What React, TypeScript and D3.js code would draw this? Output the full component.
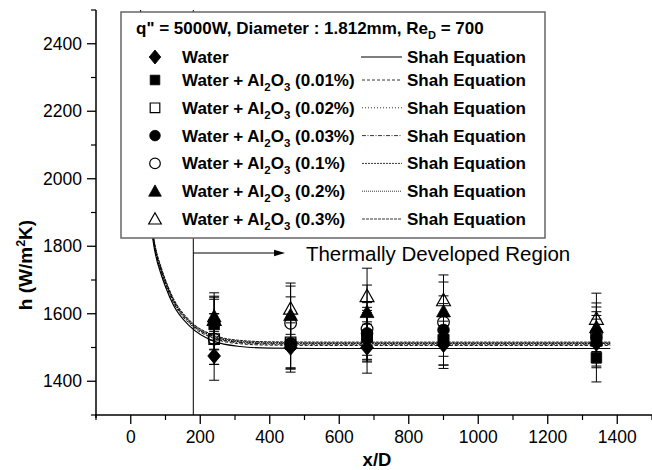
import React from "react";
import * as d3 from "d3";

// ---- data ----
const xPositions = [240, 460, 680, 900, 1340];
const hWater = [1475, 1500, 1500, 1508, 1512];
const hAl001 = [1568, 1510, 1530, 1522, 1470];
const hAl002 = [1525, 1515, 1535, 1522, 1520];
const hAl003 = [1572, 1512, 1542, 1552, 1530];
const hAl01 = [1525, 1572, 1555, 1575, 1543];
const hAl02 = [1592, 1596, 1605, 1607, 1560];
const hAl03 = [1582, 1615, 1652, 1640, 1585];

const eWater = [72, 73, 76, 70, 72];
const eAl001 = [75, 74, 73, 74, 72];
const eAl002 = [75, 75, 75, 74, 75];
const eAl003 = [77, 75, 77, 78, 76];
const eAl01 = [75, 78, 78, 78, 77];
const eAl02 = [70, 86, 80, 87, 72];
const eAl03 = [70, 76, 83, 75, 76];

const curveXD = [28, 35, 50, 66, 89, 100, 123, 172, 238, 315, 400, 600, 1000, 1380];
const shahWater = [2480, 2230, 1945, 1805, 1712, 1680, 1625, 1561, 1519, 1503, 1498, 1497, 1497, 1497];
const shah001 = [2490, 2240, 1955, 1813, 1720, 1688, 1633, 1568, 1527, 1511, 1507, 1506, 1506, 1506];
const shah002 = [2495, 2245, 1958, 1816, 1722, 1690, 1635, 1570, 1529, 1513, 1509, 1508, 1508, 1508];
const shah003 = [2500, 2250, 1962, 1819, 1725, 1693, 1638, 1572, 1531, 1515, 1511, 1510, 1510, 1510];
const shah01 = [2505, 2255, 1965, 1822, 1727, 1695, 1640, 1574, 1533, 1517, 1513, 1512, 1512, 1512];
const shah02 = [2510, 2260, 1968, 1825, 1730, 1698, 1642, 1576, 1535, 1519, 1515, 1514, 1514, 1514];
const shah03 = [2515, 2265, 1972, 1828, 1733, 1700, 1645, 1578, 1537, 1521, 1517, 1516, 1516, 1516];

const concentrations = ["", "0.01%", "0.02%", "0.03%", "0.1%", "0.2%", "0.3%"];
const xMajorTicks = [0, 200, 400, 600, 800, 1000, 1200, 1400];
const xMinorTicks = [-100, 100, 300, 500, 700, 900, 1100, 1300, 1500];
const yMajorTicks = [1400, 1600, 1800, 2000, 2200, 2400];
const yMinorTicks = [1300, 1500, 1700, 1900, 2100, 2300, 2500];

const boundaryXD = 180;
const arrowStartXD = 180;
const arrowEndXD = 444;
const arrowH = 1780;
const annotationXD = 504;
const annotationH = 1756;

type Marker = "diamond" | "square" | "circle" | "triangle";

const series = [
  { h: hWater, e: eWater, shah: shahWater, marker: "diamond" as Marker, filled: true, dash: "none" },
  { h: hAl001, e: eAl001, shah: shah001, marker: "square" as Marker, filled: true, dash: "3,2" },
  { h: hAl002, e: eAl002, shah: shah002, marker: "square" as Marker, filled: false, dash: "1,2" },
  { h: hAl003, e: eAl003, shah: shah003, marker: "circle" as Marker, filled: true, dash: "4,1.5,1,1.5" },
  { h: hAl01, e: eAl01, shah: shah01, marker: "circle" as Marker, filled: false, dash: "2,1" },
  { h: hAl02, e: eAl02, shah: shah02, marker: "triangle" as Marker, filled: true, dash: "1,1" },
  { h: hAl03, e: eAl03, shah: shah03, marker: "triangle" as Marker, filled: false, dash: "3,1" },
];

const W = 652;
const H = 470;
const left = 96;
const right = 652;
const top = 10;
const bottom = 415;
const FONT = "'Liberation Sans', Arial, Helvetica, sans-serif";

const x = d3.scaleLinear().domain([-100, 1500]).range([left, right]);
const y = d3.scaleLinear().domain([1300, 2500]).range([bottom, top]);

function markerPath(m: Marker, k: number): string {
  switch (m) {
    case "diamond":
      return `M0,${-7 * k}L${5.8 * k},0L0,${7 * k}L${-5.8 * k},0Z`;
    case "square":
      return `M${-4.8 * k},${-4.8 * k}H${4.8 * k}V${4.8 * k}H${-4.8 * k}Z`;
    case "circle":
      return d3.arc()({ innerRadius: 0, outerRadius: 5.3 * k, startAngle: 0, endAngle: 2 * Math.PI }) as string;
    case "triangle":
      return `M0,${-6.3 * k}L${6.3 * k},${5 * k}L${-6.3 * k},${5 * k}Z`;
  }
}

function MarkerShape({ m, filled, cx, cy, k = 1 }: { m: Marker; filled: boolean; cx: number; cy: number; k?: number }) {
  return (
    <path
      d={markerPath(m, k)}
      transform={`translate(${cx},${cy})`}
      fill={filled ? "#000" : "none"}
      stroke="#000"
      strokeWidth={filled ? 0.8 : 1.2}
    />
  );
}

export default function App() {
  const line = d3
    .line<[number, number]>()
    .x((d) => x(d[0]))
    .y((d) => y(d[1]))
    .curve(d3.curveMonotoneX);

  const legendX = 121;
  const legendY = 12;
  const legendW = 424;
  const legendH = 226;
  const rowY = (i: number) => (i === 0 ? 57 : 80 + (i - 1) * 27.8);

  return (
    <div style={{ position: "absolute", left: 0, top: 0, width: W, height: H, background: "#fff" }}>
      <svg width={W} height={H} style={{ display: "block", fontFamily: FONT }}>
        <defs>
          <clipPath id="plotClip">
            <rect x={left} y={top} width={right - left} height={bottom - top} />
          </clipPath>
        </defs>
        <rect x={0} y={0} width={W} height={H} fill="#fff" />

        {/* Shah curves */}
        <g clipPath="url(#plotClip)">
          {series.map((s, i) => (
            <path
              key={"c" + i}
              d={line(curveXD.map((v, j) => [v, s.shah[j]] as [number, number])) || ""}
              fill="none"
              stroke="#000"
              strokeWidth={i === 0 ? 1.2 : 0.9}
              strokeDasharray={s.dash}
            />
          ))}
        </g>

        {/* thermally developed boundary */}
        <line x1={x(boundaryXD)} x2={x(boundaryXD)} y1={bottom} y2={top} stroke="#000" strokeWidth={1} />
        <line x1={x(arrowStartXD)} x2={x(arrowEndXD) - 9} y1={y(arrowH)} y2={y(arrowH)} stroke="#000" strokeWidth={1} />
        <path
          d={`M${x(arrowEndXD)},${y(arrowH)}L${x(arrowEndXD) - 11},${y(arrowH) - 3.2}L${x(arrowEndXD) - 11},${y(arrowH) + 3.2}Z`}
          fill="#000"
        />
        <text x={x(annotationXD)} y={y(annotationH)} fontSize={20.5} fill="#000">
          Thermally Developed Region
        </text>

        {/* error bars */}
        {series.map((s, i) =>
          xPositions.map((xv, j) => {
            const cx = x(xv);
            const y1 = y(s.h[j] + s.e[j]);
            const y2 = y(s.h[j] - s.e[j]);
            return (
              <g key={`e${i}-${j}`} stroke="#000" strokeWidth={1}>
                <line x1={cx} x2={cx} y1={y1} y2={y2} />
                <line x1={cx - 5} x2={cx + 5} y1={y1} y2={y1} />
                <line x1={cx - 5} x2={cx + 5} y1={y2} y2={y2} />
              </g>
            );
          })
        )}

        {/* markers */}
        {series.map((s, i) =>
          xPositions.map((xv, j) => (
            <MarkerShape key={`m${i}-${j}`} m={s.marker} filled={s.filled} cx={x(xv)} cy={y(s.h[j])} k={1.1} />
          ))
        )}

        {/* axes */}
        <line x1={left} x2={left} y1={top} y2={bottom + 3} stroke="#000" strokeWidth={1.5} />
        <line x1={left - 1} x2={right} y1={bottom} y2={bottom} stroke="#000" strokeWidth={1.5} />
        {yMajorTicks.map((t) => (
          <g key={"ym" + t}>
            <line x1={left - 9} x2={left} y1={y(t)} y2={y(t)} stroke="#000" strokeWidth={1.3} />
            <text x={left - 14} y={y(t) + 6} fontSize={17.5} textAnchor="end" fill="#000">
              {t}
            </text>
          </g>
        ))}
        {yMinorTicks.map((t) => (
          <line key={"yn" + t} x1={left - 5} x2={left} y1={y(t)} y2={y(t)} stroke="#000" strokeWidth={1.2} />
        ))}
        {xMajorTicks.map((t) => (
          <g key={"xm" + t}>
            <line x1={x(t)} x2={x(t)} y1={bottom} y2={bottom + 9} stroke="#000" strokeWidth={1.3} />
            <text x={x(t)} y={bottom + 28} fontSize={17.5} textAnchor="middle" fill="#000">
              {t}
            </text>
          </g>
        ))}
        {xMinorTicks.map((t) => (
          <line key={"xn" + t} x1={x(t)} x2={x(t)} y1={bottom} y2={bottom + 5} stroke="#000" strokeWidth={1.2} />
        ))}

        {/* axis titles */}
        <text x={(left + right) / 2 + 3} y={466} fontSize={18.5} fontWeight="bold" textAnchor="middle">
          x/D
        </text>
        <text transform={`translate(32,265) rotate(-90)`} fontSize={19} fontWeight="bold" textAnchor="middle">
          h (W/m<tspan fontSize={12.5} dy={-7}>2</tspan>
          <tspan dy={7}>K)</tspan>
        </text>

        {/* legend */}
        <rect x={legendX} y={legendY} width={legendW} height={legendH} fill="#fff" stroke="#666" strokeWidth={1.5} />
        <text x={136} y={34} fontSize={17} fontWeight="bold">
          q" = 5000W, Diameter : 1.812mm, Re
          <tspan fontSize={11} dy={5}>D</tspan>
          <tspan dy={-5}> = 700</tspan>
        </text>
        {series.map((s, i) => {
          const cy = rowY(i);
          return (
            <g key={"lg" + i}>
              <MarkerShape m={s.marker} filled={s.filled} cx={155} cy={cy} />
              {i === 0 ? (
                <text x={182} y={cy + 6} fontSize={17} fontWeight="bold">
                  Water
                </text>
              ) : (
                <text x={182} y={cy + 6} fontSize={17} fontWeight="bold">
                  Water + Al<tspan fontSize={11.5} dy={5}>2</tspan>
                  <tspan dy={-5}>O</tspan>
                  <tspan fontSize={11.5} dy={5}>3</tspan>
                  <tspan dy={-5}>{` (${concentrations[i]})`}</tspan>
                </text>
              )}
              <line
                x1={i === 0 ? 361 : 362}
                x2={402}
                y1={cy}
                y2={cy}
                stroke="#000"
                strokeWidth={i === 0 ? 1.1 : 0.8}
                strokeDasharray={s.dash}
              />
              <text x={407} y={cy + 6} fontSize={17} fontWeight="bold">
                Shah Equation
              </text>
            </g>
          );
        })}
      </svg>
    </div>
  );
}
